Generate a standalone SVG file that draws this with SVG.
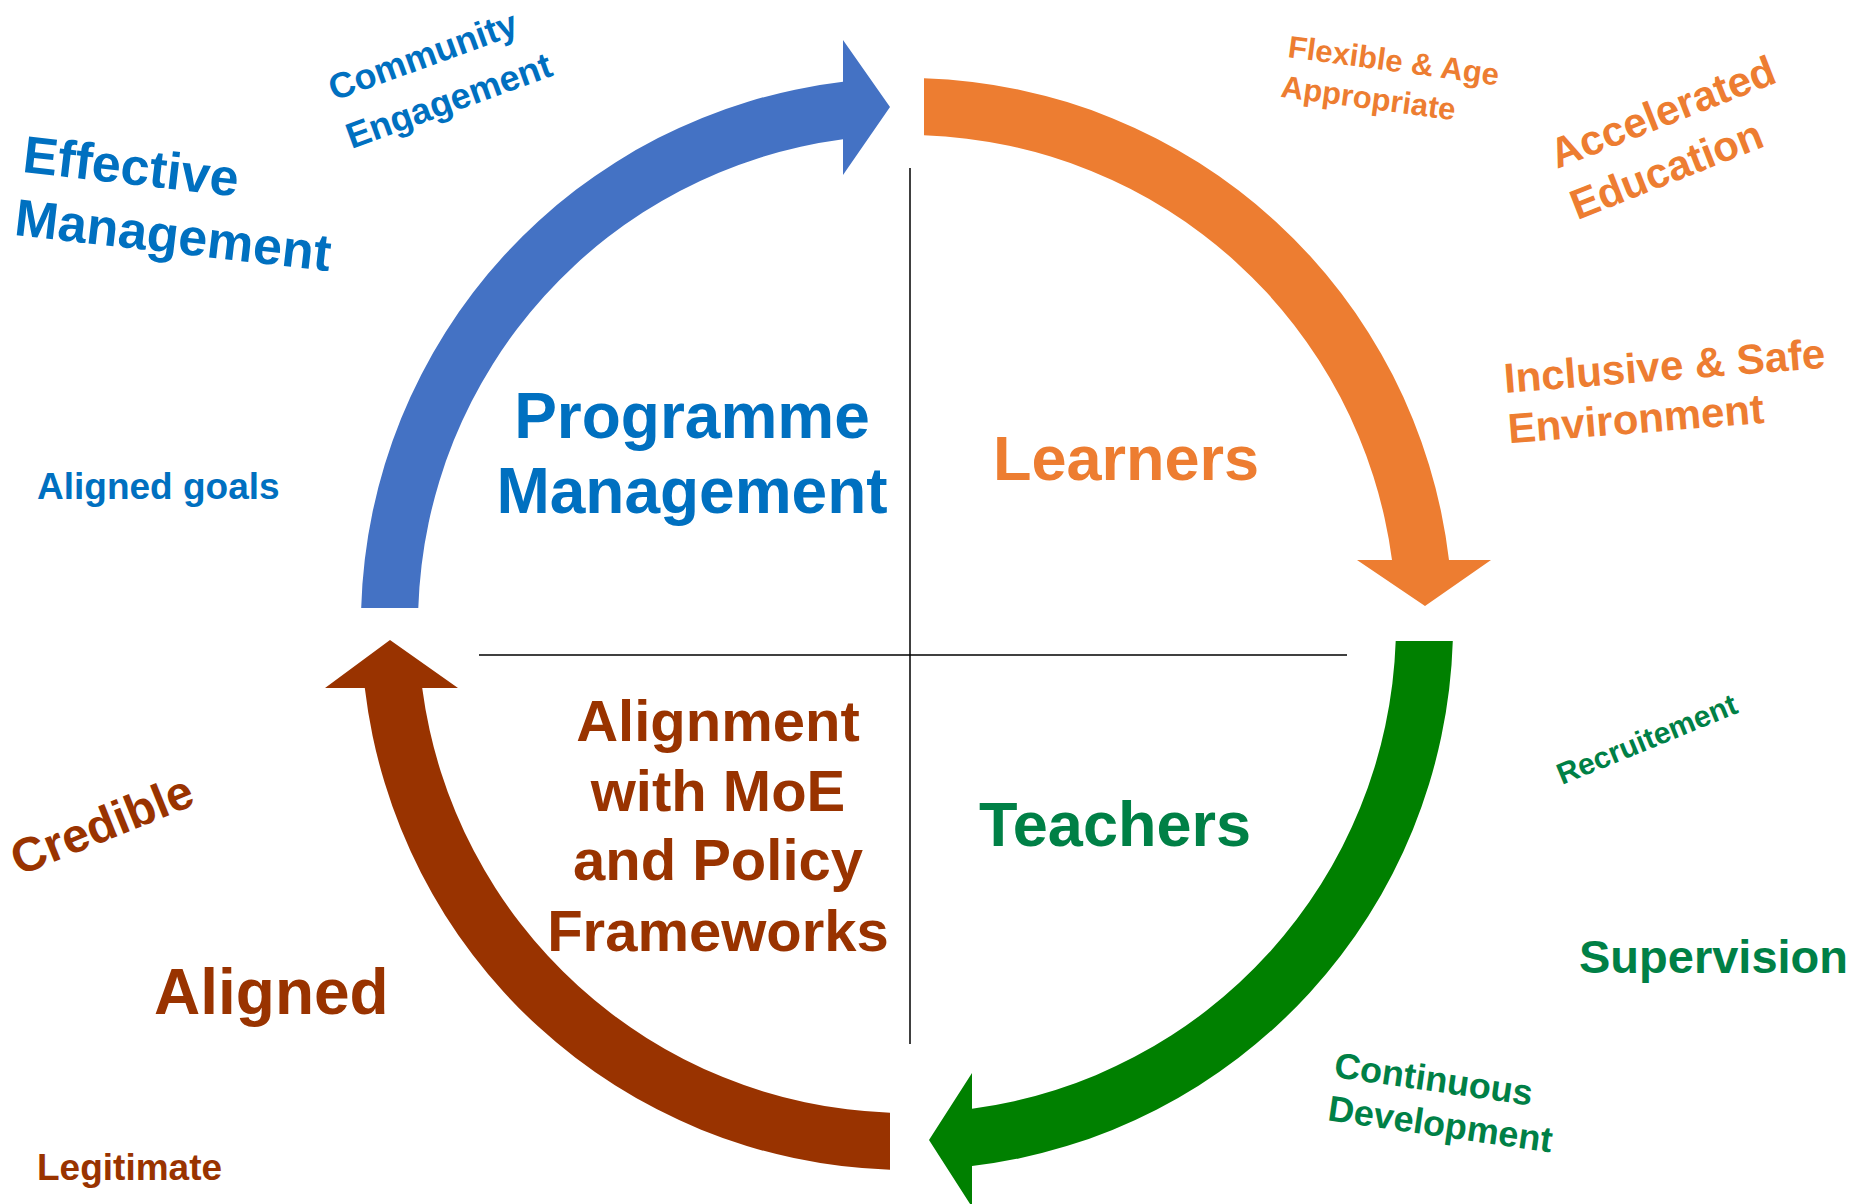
<svg xmlns="http://www.w3.org/2000/svg" width="1858" height="1204" viewBox="0 0 1858 1204">
<style>
text{font-family:"Liberation Sans",Arial,sans-serif;font-weight:bold}
.b{fill:#0070C0}.o{fill:#ED7D31}.g{fill:#008046}.r{fill:#993300}
.c{text-anchor:middle}
.ax{stroke:#000;stroke-width:1.5;fill:none}
</style>
<rect width="1858" height="1204" fill="#fff"/>
<g id="axes">
<line class="ax" x1="910" y1="168" x2="910" y2="1044"/>
<line class="ax" x1="479" y1="655" x2="1347" y2="655"/>
</g>
<g id="connectors">
<path id="arrow-blue" fill="#4472C4" d="M361.2 608 A546 546 0 0 1 843 81.8 L843 40 L890 107 L843 175 L843 139.2 A489 489 0 0 0 418.3 608 Z"/>
<path id="arrow-orange" fill="#ED7D31" d="M924 78.3 A546 546 0 0 1 1449 560 L1491 560 L1425 606 L1357 560 L1392 560 A489 489 0 0 0 924 135.3 Z"/>
<path id="arrow-green" fill="#008000" d="M1452.8 641 A546 546 0 0 1 972 1166.1 L972 1207 L929 1140 L972 1073 L972 1108.7 A489 489 0 0 0 1395.7 641 Z"/>
<path id="arrow-brown" fill="#993300" d="M890 1169.7 A546 546 0 0 1 364.8 688 L325 688 L390 640 L458 688 L422.2 688 A489 489 0 0 0 890 1112.7 Z"/>
</g>
<g id="node-programme">
<text class="b c" x="692" y="438" font-size="64">Programme</text>
<text class="b c" x="692" y="513" font-size="64">Management</text>
</g>
<g id="node-learners">
<text class="o c" x="1126" y="480" font-size="63">Learners</text>
</g>
<g id="node-teachers">
<text class="g c" x="1115" y="846" font-size="63">Teachers</text>
</g>
<g id="node-alignment">
<text class="r c" x="718" y="741" font-size="58">Alignment</text>
<text class="r c" x="718" y="811" font-size="58">with MoE</text>
<text class="r c" x="718" y="880" font-size="58">and Policy</text>
<text class="r c" x="718" y="951" font-size="58">Frameworks</text>
</g>
<g id="label-effective" transform="translate(21.5 171.7) rotate(6.6)">
<text class="b" x="0" y="0" font-size="52">Effective</text>
<text class="b" x="-1" y="63.5" font-size="52">Management</text>
</g>
<g id="label-community" transform="translate(334 101) rotate(-20)">
<text class="b" x="0" y="0" font-size="36">Community</text>
<text class="b" x="0" y="51" font-size="36">Engagement</text>
</g>
<g id="label-aligned-goals">
<text class="b" x="37" y="499" font-size="37">Aligned goals</text>
</g>
<g id="label-flexible" transform="translate(1287 57) rotate(7.7)">
<text class="o" x="0" y="0" font-size="31">Flexible &amp; Age</text>
<text class="o" x="-1.5" y="40.4" font-size="31">Appropriate</text>
</g>
<g id="label-accelerated" transform="translate(1557 169) rotate(-21.5)">
<text class="o" x="0" y="0" font-size="42">Accelerated</text>
<text class="o" x="0" y="55" font-size="42">Education</text>
</g>
<g id="label-inclusive" transform="translate(1505 393) rotate(-4.5)">
<text class="o" x="0" y="0" font-size="42">Inclusive &amp; Safe</text>
<text class="o" x="0" y="50.3" font-size="42">Environment</text>
</g>
<g id="label-recruitement" transform="translate(1562 785) rotate(-22.3)">
<text class="g" x="0" y="0" font-size="30">Recruitement</text>
</g>
<g id="label-supervision">
<text class="g" x="1579" y="973" font-size="47">Supervision</text>
</g>
<g id="label-continuous" transform="translate(1333 1077) rotate(8.2)">
<text class="g" x="0" y="0" font-size="36">Continuous</text>
<text class="g" x="0" y="43.7" font-size="36">Development</text>
</g>
<g id="label-credible" transform="translate(19 876) rotate(-22)">
<text class="r" x="0" y="0" font-size="48">Credible</text>
</g>
<g id="label-aligned">
<text class="r" x="154" y="1014" font-size="64">Aligned</text>
</g>
<g id="label-legitimate">
<text class="r" x="37" y="1180" font-size="37">Legitimate</text>
</g>
</svg>
